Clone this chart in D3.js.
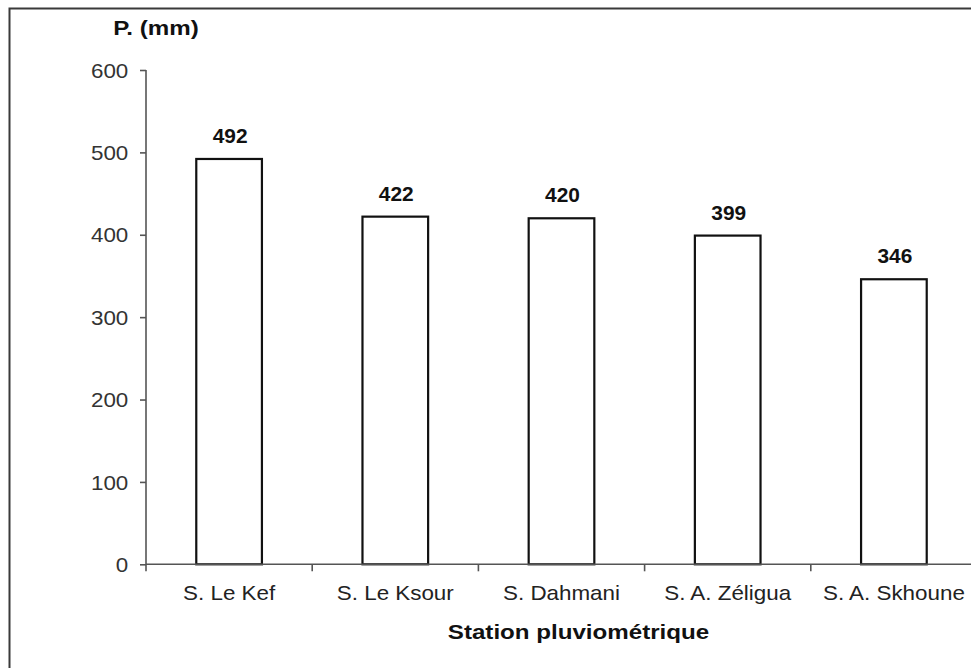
<!DOCTYPE html>
<html>
<head>
<meta charset="utf-8">
<script src="https://cdn.jsdelivr.net/npm/d3@7"></script>
<style>
  html, body { margin: 0; padding: 0; background: #fff; }
  svg { display: block; }
  text { font-family: "Liberation Sans", Arial, sans-serif; }
</style>
</head>
<body>
<svg id="chart" width="971" height="668"></svg>
<script>
const categories = ["S. Le Kef", "S. Le Ksour", "S. Dahmani", "S. A. Zéligua", "S. A. Skhoune"];
const values = [492, 422, 420, 399, 346];
const yTicks = [0, 100, 200, 300, 400, 500, 600];
const yLabel = "P. (mm)";
const xLabel = "Station pluviométrique";

const svg = d3.select("#chart");
const W = 971, H = 668;
const SX = 1.12;   // horizontal stretch of the reference text
const SXB = 1.15;

// outer frame (extends past the right and bottom edges)
svg.append("rect")
  .attr("x", 9.5).attr("y", 8.5)
  .attr("width", 1100).attr("height", 800)
  .attr("fill", "none").attr("stroke", "#3a3a3a").attr("stroke-width", 2);

const x0 = 146, x1 = 977, yTop = 70, yBottom = 564.3;

const x = d3.scaleBand().domain(categories).range([x0, x1]).padding(0);
const y = d3.scaleLinear().domain([0, 600]).range([yBottom, yTop]);

const g = svg.append("g");

// bars
const barW = x.bandwidth() * 0.395;
g.selectAll("rect.bar")
  .data(values)
  .join("rect")
  .attr("class", "bar")
  .attr("x", (d, i) => x(categories[i]) + x.bandwidth() / 2 - barW / 2)
  .attr("y", d => y(d))
  .attr("width", barW)
  .attr("height", d => y(0) - y(d))
  .attr("fill", "#fff")
  .attr("stroke", "#111")
  .attr("stroke-width", 2.2);

// value labels
g.selectAll("text.val")
  .data(values)
  .join("text")
  .attr("class", "val")
  .attr("transform", (d, i) => `translate(${x(categories[i]) + x.bandwidth() / 2 + 1},${y(d) - 16}) scale(1.02,1)`)
  .attr("text-anchor", "middle")
  .attr("font-size", 20.5)
  .attr("font-weight", "bold")
  .attr("fill", "#111")
  .text(d => d);

// y axis
const yAxis = d3.axisLeft(y).tickValues(yTicks).tickSize(6).tickPadding(0).tickSizeOuter(0);
const ya = svg.append("g").attr("transform", `translate(${x0},0)`).call(yAxis);
ya.select(".domain").attr("stroke", "#555").attr("stroke-width", 1.6)
  .attr("d", `M0,${yTop}V${yBottom + 7}`);
ya.selectAll(".tick line").attr("stroke", "#555").attr("stroke-width", 1.6);
ya.selectAll(".tick text")
  .attr("x", null).attr("dy", null)
  .attr("transform", `translate(-17.7,0) scale(${SX},1)`)
  .attr("dy", "0.36em")
  .attr("font-size", 20)
  .attr("font-family", "Liberation Sans, Arial, sans-serif")
  .attr("fill", "#333");

// x axis line
svg.append("line")
  .attr("x1", x0).attr("x2", x1)
  .attr("y1", yBottom).attr("y2", yBottom)
  .attr("stroke", "#555").attr("stroke-width", 1.6);

// x boundary ticks
const bounds = categories.map(c => x(c)).concat([x.range()[1]]).slice(1);
svg.selectAll("line.xt")
  .data(bounds)
  .join("line")
  .attr("class", "xt")
  .attr("x1", d => d).attr("x2", d => d)
  .attr("y1", yBottom).attr("y2", yBottom + 7)
  .attr("stroke", "#555").attr("stroke-width", 1.6);

// category labels
svg.selectAll("text.cat")
  .data(categories)
  .join("text")
  .attr("class", "cat")
  .attr("transform", d => `translate(${x(d) + x.bandwidth() / 2},600) scale(${SX},1)`)
  .attr("text-anchor", "middle")
  .attr("font-size", 20)
  .attr("fill", "#222")
  .text(d => d);

// axis titles
svg.append("text")
  .attr("transform", `translate(156,34.5) scale(${SXB},1)`)
  .attr("text-anchor", "middle")
  .attr("font-size", 21)
  .attr("font-weight", "bold")
  .attr("fill", "#111")
  .text(yLabel);

svg.append("text")
  .attr("transform", `translate(578.5,638.5) scale(${SXB},1)`)
  .attr("text-anchor", "middle")
  .attr("font-size", 21)
  .attr("font-weight", "bold")
  .attr("fill", "#111")
  .text(xLabel);
</script>
</body>
</html>
